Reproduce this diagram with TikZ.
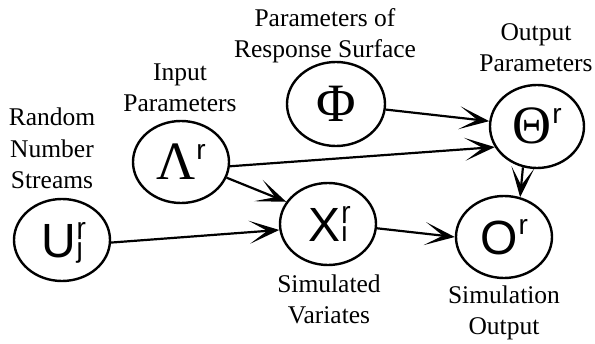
\documentclass[tikz,border=0pt]{standalone}
\usepackage{fontspec}
\setmainfont{Liberation Serif}
\newfontfamily\serif{Liberation Serif}
\newfontfamily\sansf{Liberation Sans}
\usetikzlibrary{shapes.geometric,arrows.meta}
\newcommand{\lblfont}{\serif\fontsize{25.5}{31.5}\selectfont}
\newcommand{\bigsym}{\serif\fontsize{54}{54}\selectfont}
\newcommand{\bigsans}{\sansf\fontsize{48}{48}\selectfont}
\newcommand{\supf}{\sansf\fontsize{28}{28}\selectfont}
\newcommand{\Up}[1]{\raisebox{20pt}{\supf #1}}
\newcommand{\UpDown}[2]{\rlap{\raisebox{20pt}{\supf #1}}{\supf #2}}
\tikzset{
  var/.style={draw, ellipse, line width=2.4pt, inner sep=0pt,
    minimum width=96pt, minimum height=82pt, text height=35pt, text depth=0pt},
  lbl/.style={align=center, font=\lblfont, anchor=base, inner sep=0pt},
  arr/.style={line width=2.2pt, -{Stealth[length=30pt,width=23pt,inset=18pt]}}
}
\begin{document}
\begin{tikzpicture}[x=1pt,y=-1pt]
\useasboundingbox (0,0) rectangle (595,344);
\node[var] (u) at (62,240) {\bigsans U\kern1pt\UpDown{r}{j}\hspace{12pt}};
\node[var] (lam) at (181,162) {\bigsym Λ\kern1pt\Up{r}};
\node[var, minimum width=98pt, minimum height=84pt] (phi) at (336,104) {\bigsym Φ};
\node[var, minimum width=94pt, minimum height=83pt] (theta) at (537,126.5) {\bigsym Θ\kern1pt\Up{r}};
\node[var] (x) at (328,224) {\bigsans X\kern1pt\UpDown{r}{i}};
\node[var] (o) at (504,237) {\bigsans O\kern1pt\Up{r}};

\node[lbl] (lu) at (52,189) {Random\\Number\\Streams};
\node[lbl] (llam) at (180,112) {Input\\Parameters};
\node[lbl] (lphi) at (325,58) {Parameters of\\Response Surface};
\node[lbl] (ltheta) at (536,72) {Output\\Parameters};
\node[lbl] (lx) at (329,324) {Simulated\\Variates};
\node[lbl] (lo) at (504,335) {Simulation\\Output};

\draw[arr] (phi) -- (theta);
\draw[arr] (lam.-5) -- (theta.206);
\draw[arr] (lam.-19) -- (x.152);
\draw[arr] (u.-3) -- (x.187);
\draw[arr] (x.-5) -- (o.180);
\draw[arr] (theta.251) -- (o.68);
\end{tikzpicture}
\end{document}
